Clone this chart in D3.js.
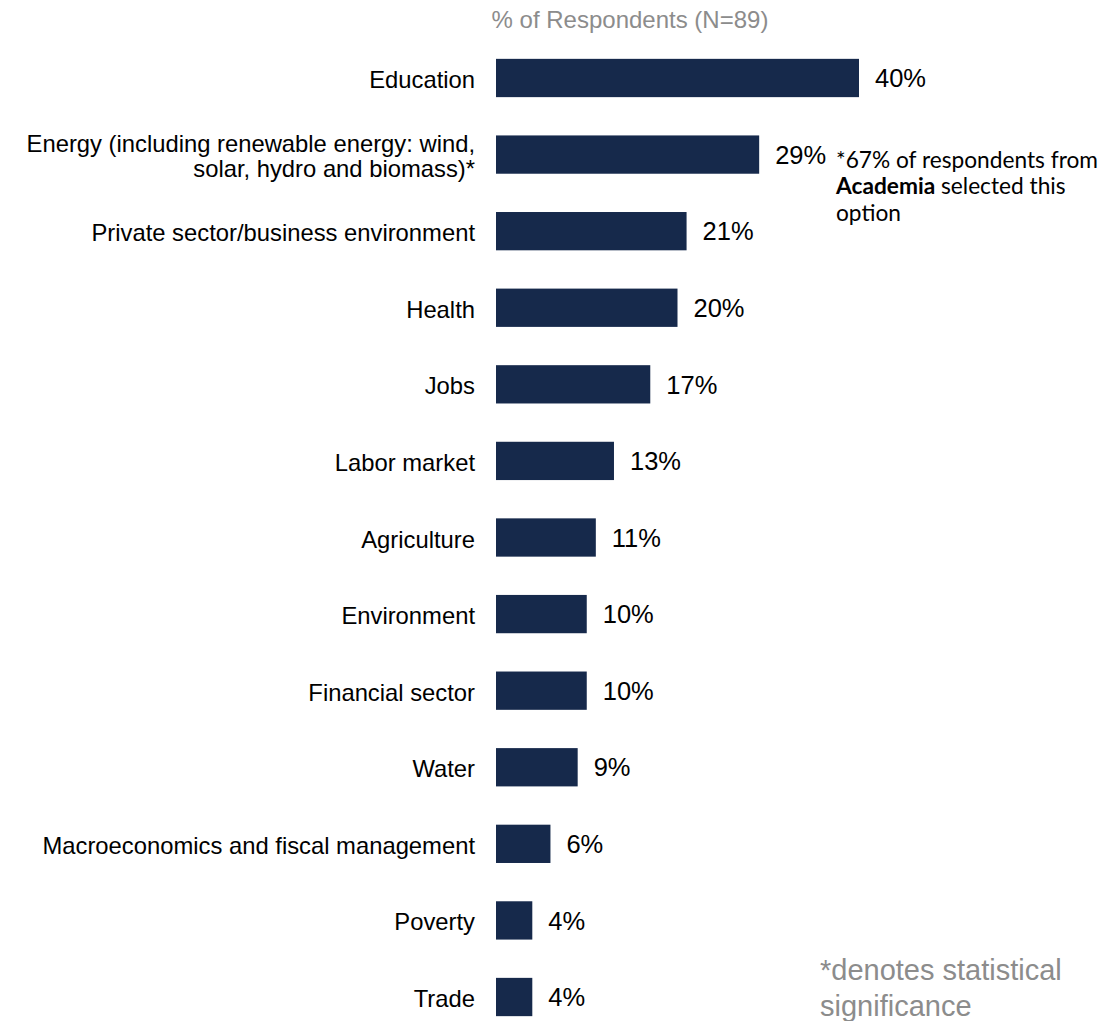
<!DOCTYPE html>
<html>
<head>
<meta charset="utf-8">
<script src="https://cdn.jsdelivr.net/npm/d3@7"></script>
<style>
  html, body { margin: 0; padding: 0; background: #ffffff; }
  svg { display: block; font-family: "Liberation Sans", Arial, sans-serif; }
</style>
</head>
<body>
<svg id="chart" width="1119" height="1021"></svg>
<script>
// Sector priorities, % of respondents (N=89)
const categories = [
  "Education",
  "Energy (including renewable energy: wind,|solar, hydro and biomass)*",
  "Private sector/business environment",
  "Health",
  "Jobs",
  "Labor market",
  "Agriculture",
  "Environment",
  "Financial sector",
  "Water",
  "Macroeconomics and fiscal management",
  "Poverty",
  "Trade"
];
const values = [40, 29, 21, 20, 17, 13, 11, 10, 10, 9, 6, 4, 4];
const axisTitle = "% of Respondents (N=89)";
const noteLines = [
  [{ t: "*67% of respondents from", b: false }],
  [{ t: "Academia", b: true }, { t: " selected this", b: false }],
  [{ t: "option", b: false }]
];
const footnoteLines = ["*denotes statistical", "significance"];

const data = categories.map((c, i) => ({ cat: c, val: values[i] }));

const svg = d3.select("#chart");
const barColor = "#16294b";

const x = d3.scaleLinear().domain([0, 40]).range([496, 859]);
const y = d3.scaleBand()
  .domain(categories)
  .range([39.7, 1035.3])
  .paddingInner(0.5)
  .paddingOuter(0.25);

// Axis title
svg.append("text")
  .attr("x", 630)
  .attr("y", 28)
  .attr("text-anchor", "middle")
  .attr("font-size", 24)
  .attr("fill", "#8c8c8c")
  .text(axisTitle);

// Bars
svg.append("g")
  .selectAll("rect")
  .data(data)
  .join("rect")
  .attr("x", x(0))
  .attr("y", d => y(d.cat))
  .attr("width", d => x(d.val) - x(0))
  .attr("height", y.bandwidth())
  .attr("fill", barColor);

// Value labels
svg.append("g")
  .selectAll("text")
  .data(data)
  .join("text")
  .attr("x", d => x(d.val) + 16)
  .attr("y", d => y(d.cat) + y.bandwidth() / 2)
  .attr("dy", "0.36em")
  .attr("font-size", 25.5)
  .attr("fill", "#000")
  .text(d => d.val + "%");

// Category labels (a "|" splits a label over two lines)
const catG = svg.append("g");
data.forEach(d => {
  const lines = d.cat.split("|");
  const cy = y(d.cat) + y.bandwidth() / 2;
  const lh = 25;
  const t = catG.append("text")
    .attr("text-anchor", "end")
    .attr("font-size", 23.8)
    .attr("fill", "#000");
  lines.forEach((ln, k) => {
    t.append("tspan")
      .attr("x", 475)
      .attr("y", cy + 1.5 + (k - (lines.length - 1) / 2) * lh)
      .attr("dy", "0.36em")
      .text(ln);
  });
});

// Significance note beside the Energy bar
const noteY = y(categories[1]) + y.bandwidth() / 2;
const note = svg.append("text")
  .style("font-family", "Lato, 'Open Sans', sans-serif")
  .attr("font-size", 22.7)
  .attr("fill", "#000");
noteLines.forEach((parts, k) => {
  parts.forEach((p, j) => {
    const ts = note.append("tspan").text(p.t);
    if (j === 0) ts.attr("x", 836).attr("y", noteY + 13 + k * 26.5);
    if (p.b) ts.attr("font-weight", "bold");
  });
});

// Footnote
const foot = svg.append("text")
  .attr("font-size", 29)
  .attr("fill", "#8c8c8c");
footnoteLines.forEach((ln, k) => {
  foot.append("tspan")
    .attr("x", 820)
    .attr("y", 980 + k * 36)
    .text(ln);
});
</script>
</body>
</html>
